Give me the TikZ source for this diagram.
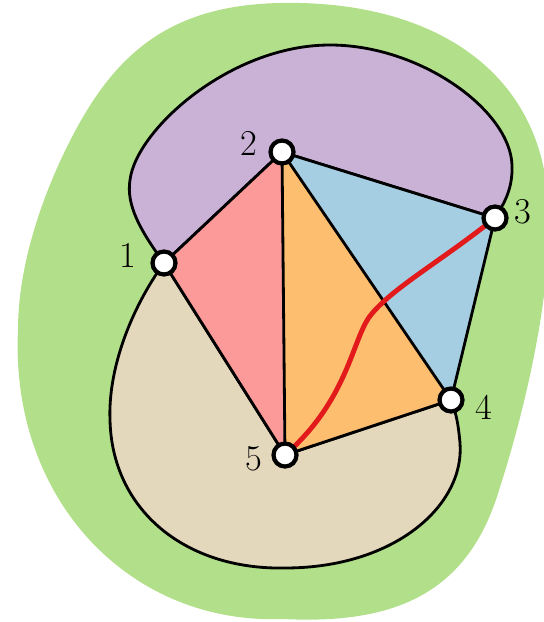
\documentclass[tikz,border=0pt]{standalone}
\usepackage{tikz}
\usetikzlibrary{positioning}

\definecolor{outergreen}{HTML}{B2DF8A}
\definecolor{facepurple}{HTML}{CAB2D6}
\definecolor{facepink}{HTML}{FB9A99}
\definecolor{faceorange}{HTML}{FDBF6F}
\definecolor{faceblue}{HTML}{A6CEE3}
\definecolor{facebeige}{HTML}{E3D7BC}
\definecolor{pathred}{HTML}{E31A1C}

\begin{document}
\begin{tikzpicture}[
    x=0.02cm, y=-0.02cm,
    vertex/.style={circle, draw=black, fill=white, line width=2.4pt,
                   minimum size=0.46cm, inner sep=0pt},
    edge/.style={line width=1.6pt, line join=round},
    region/.style={line width=1.6pt, line join=round},
    redpath/.style={line width=2.8pt, draw=pathred, line cap=round},
    lbl/.style={font=\huge, anchor=center, inner sep=0pt},
]
\useasboundingbox (0,0) rectangle (544,622);
\clip (0,0) rectangle (544,622);

% Outer face
\fill[outergreen] (280,3) .. controls (420,0) and (525,60) .. (545,175)
    .. controls (560,262) and (528,400) .. (500,487)
    .. controls (470,590) and (400,625) .. (283,619)
    .. controls (130,625) and (10,500) .. (18,330)
    .. controls (18,250) and (55,165) .. (83,117)
    .. controls (125,45) and (180,5) .. cycle;

% Vertex positions
\path (164,263) coordinate (p1)
      (282,152) coordinate (p2)
      (495,218) coordinate (p3)
      (451,400) coordinate (p4)
      (285,455) coordinate (p5);

% Faces
\filldraw[region, fill=facepurple] (p1)
    .. controls (140,230) and (126,205) .. (130,180)
    .. controls (136,130) and (230,45) .. (330,45)
    .. controls (420,45) and (510,110) .. (512,165)
    .. controls (513,190) and (503,205) .. (p3)
    -- (p2) -- cycle;
\filldraw[region, fill=facebeige] (p1)
    .. controls (130,310) and (108,370) .. (110,420)
    .. controls (112,510) and (185,570) .. (285,568)
    .. controls (395,568) and (465,505) .. (460,443)
    .. controls (458,420) and (455,410) .. (p4)
    -- (p5) -- cycle;
\fill[facepink]   (p1) -- (p2) -- (p5) -- cycle;
\fill[faceorange] (p2) -- (p4) -- (p5) -- cycle;
\fill[faceblue]   (p2) -- (p3) -- (p4) -- cycle;

% Edges
\draw[edge] (p1) -- (p2) -- (p3) -- (p4) -- (p5) -- (p1);
\draw[edge] (p2) -- (p5);
\draw[edge] (p2) -- (p4);

% Path 3 -> 5
\draw[redpath] (p3) .. controls (440,262) and (392,288) .. (370,316)
               .. controls (352,340) and (348,400) .. (p5);

% Vertex nodes
\node[vertex, label={[lbl, label distance=0.47cm]169:1}]  (v1) at (p1) {};
\node[vertex, label={[lbl, label distance=0.42cm]165:2}]  (v2) at (p2) {};
\node[vertex, label={[lbl, label distance=0.29cm]12:3}]   (v3) at (p3) {};
\node[vertex, label={[lbl, label distance=0.40cm]-12:4}]  (v4) at (p4) {};
\node[vertex, label={[lbl, label distance=0.35cm]187:5}]  (v5) at (p5) {};

\end{tikzpicture}
\end{document}
